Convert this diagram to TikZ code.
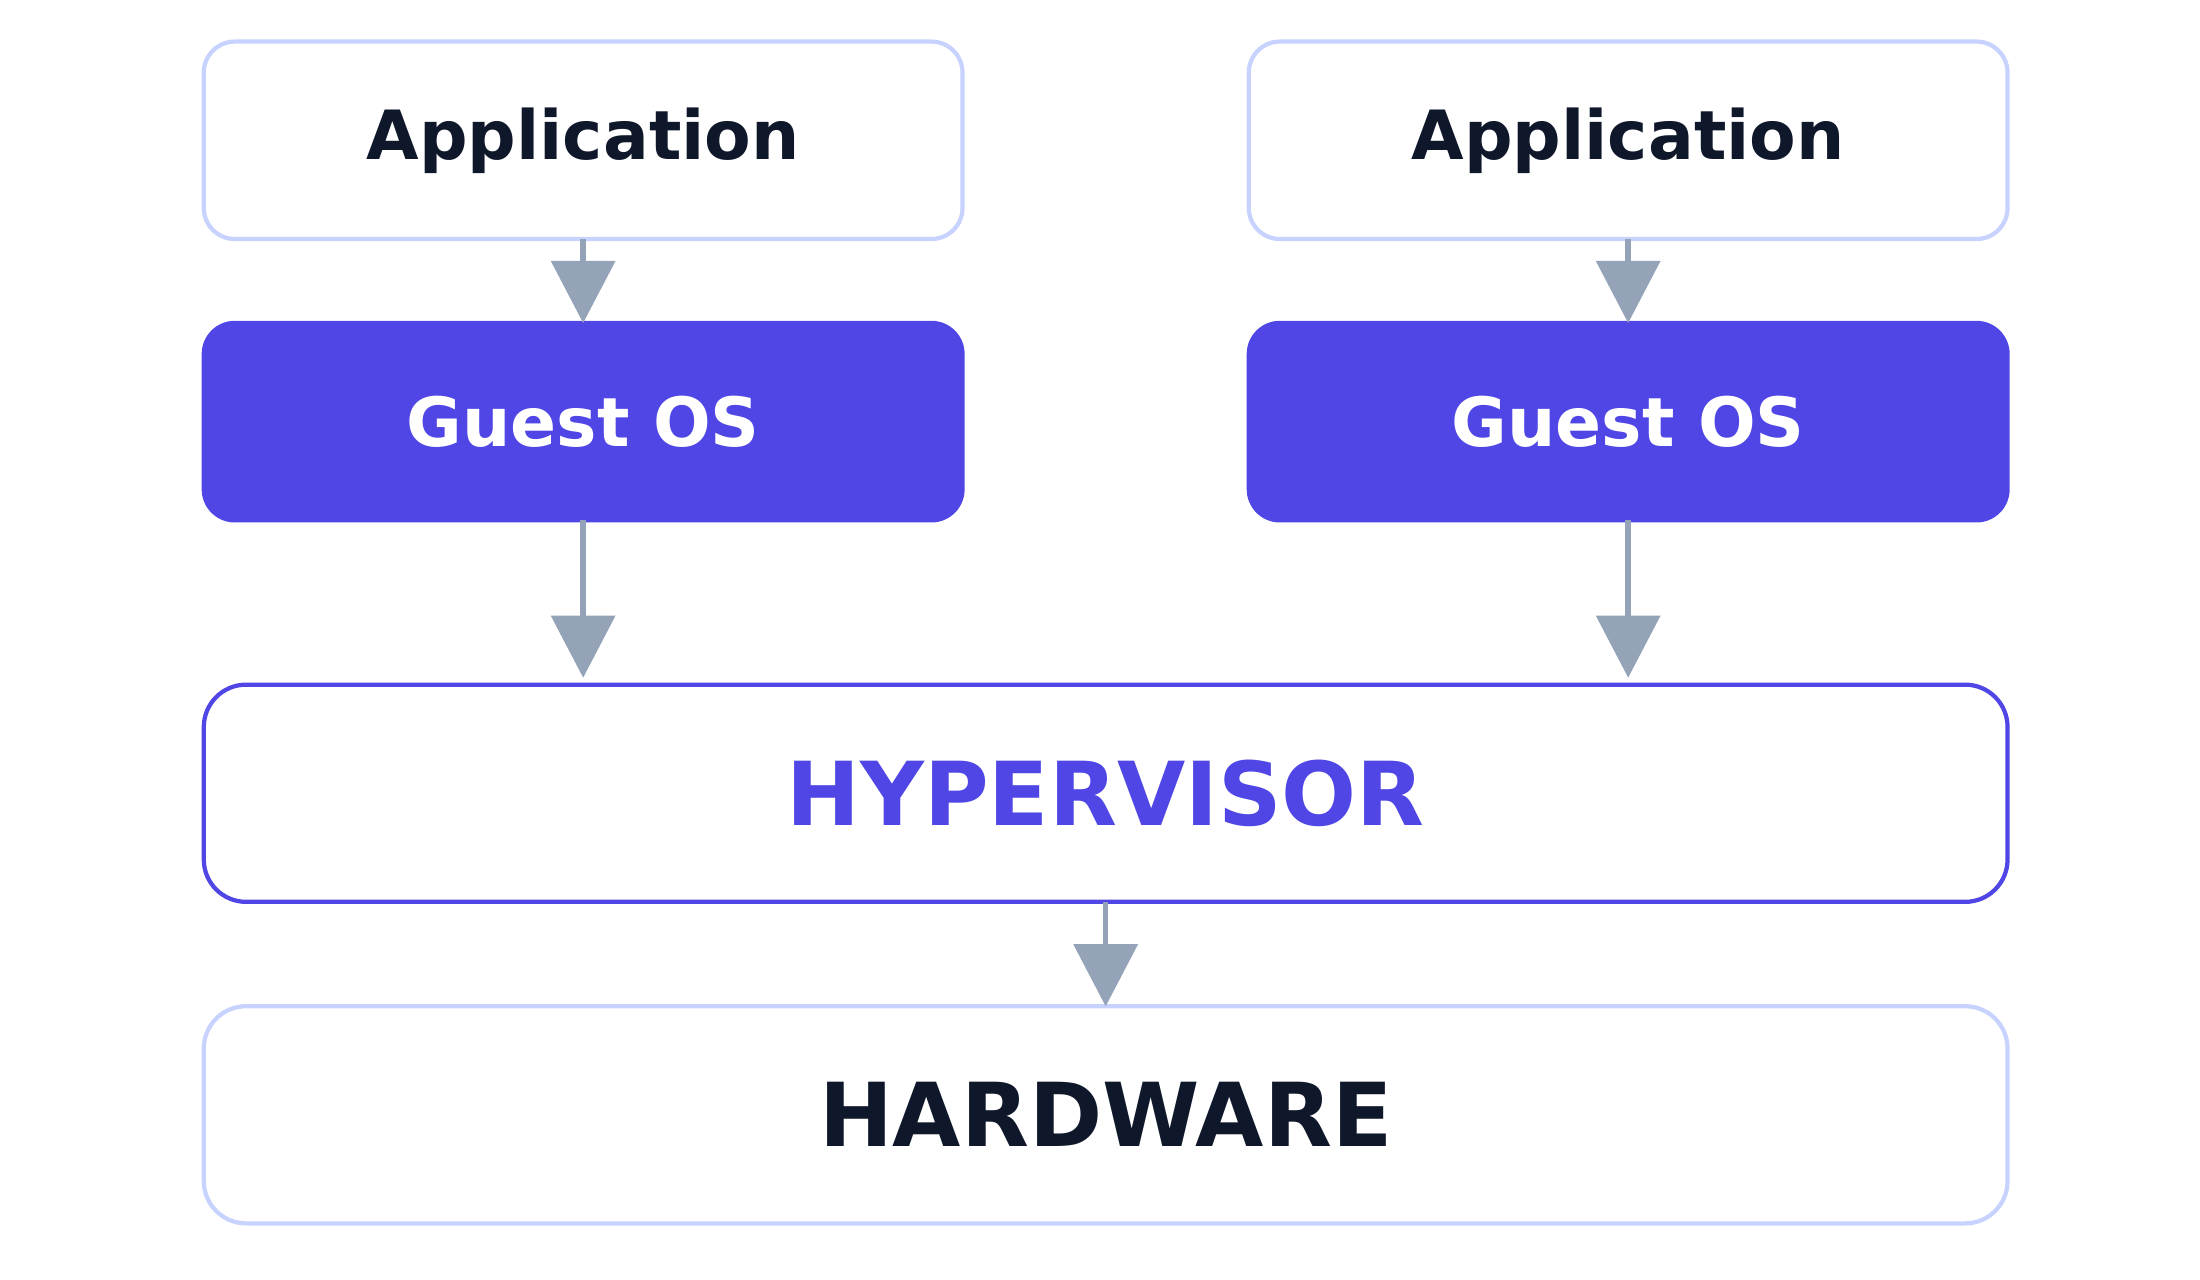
\documentclass[tikz,border=0pt]{standalone}
\usepackage{fontspec}
\setmainfont{DejaVu Sans}
\usetikzlibrary{arrows.meta}
\definecolor{boxline}{HTML}{C7D2FE}
\definecolor{indigo}{HTML}{4F46E5}
\definecolor{ink}{HTML}{0F172A}
\definecolor{arrowgray}{HTML}{94A3B8}
\begin{document}
\begin{tikzpicture}[
    box/.style = {draw=boxline, line width=0.03cm, fill=white, rounded corners=0.22cm, outer sep=0pt,
                  minimum width=5.38cm, minimum height=1.40cm, text=ink, font=\bfseries\fontsize{13.7}{16}\selectfont},
    guest/.style = {box, draw=indigo, fill=indigo, text=white},
    wide/.style = {box, minimum width=12.79cm, minimum height=1.54cm, rounded corners=0.3cm,
                   font=\bfseries\fontsize{17.8}{21}\selectfont},
    flow/.style = {draw=arrowgray, line width=0.04cm, -{Triangle[width=0.46cm,length=0.44cm,fill=arrowgray,line width=0pt]}}]
    \useasboundingbox (0,0) rectangle (15.6,9.07);
    \node[box]		(app1)	at (4.135,8.075)	{Application};
    \node[box]		(app2)	at (11.545,8.075)	{Application};
    \node[guest]	(os1)	at (4.135,6.08)		{Guest OS};
    \node[guest]	(os2)	at (11.545,6.08)	{Guest OS};
    \node[wide, draw=indigo, text=indigo]	(hyper)	at (7.84,3.445)	{HYPERVISOR};
    \node[wide]		(hw)	at (7.84,1.165)		{HARDWARE};
    \path[flow]	(app1)	edge	(os1);
    \path[flow]	(app2)	edge	(os2);
    \path[flow, shorten >=0.05cm]	(os1)	edge	(os1 |- hyper.north);
    \path[flow, shorten >=0.05cm]	(os2)	edge	(os2 |- hyper.north);
    \path[flow]	(hyper)	edge	(hw);
\end{tikzpicture}
\end{document}
